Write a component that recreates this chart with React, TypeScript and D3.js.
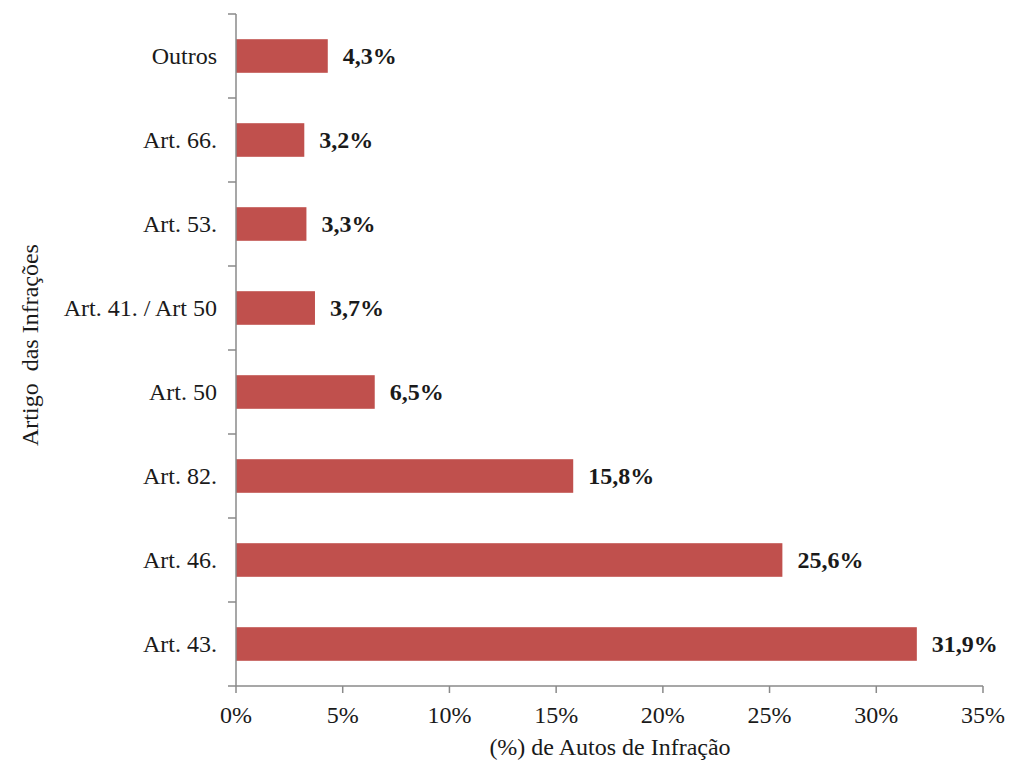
import React from "react";
import * as d3 from "d3";

const categories = ["Outros", "Art. 66.", "Art. 53.", "Art. 41. / Art 50", "Art. 50", "Art. 82.", "Art. 46.", "Art. 43."];
const values = [4.3, 3.2, 3.3, 3.7, 6.5, 15.8, 25.6, 31.9];
const xTicks = [0, 5, 10, 15, 20, 25, 30, 35];
const xTitle = "(%) de Autos de Infração";
const yTitle = "Artigo  das Infrações";

const W = 1011;
const H = 765;
const FONT = "'Liberation Serif', 'Times New Roman', serif";
const AXIS = "#8a8a8a";
const BAR = "#c0504d";

export default function App() {
  const x = d3.scaleLinear().domain([0, 35]).range([236, 983]);
  const y = d3
    .scaleBand<string>()
    .domain(categories)
    .range([14, 686])
    .paddingInner(0.6)
    .paddingOuter(0.3);
  const step = y.step();
  const [y0, y1] = y.range();
  const yTickPos = d3.range(categories.length + 1).map((i) => y0 + i * step);
  const fmt = (v: number) => v.toFixed(1).replace(".", ",") + "%";

  return (
    <svg
      width={W}
      height={H}
      style={{ position: "absolute", left: 0, top: 0, display: "block", background: "#fff" }}
      fontFamily={FONT}
    >
      {/* bars */}
      {categories.map((c, i) => (
        <rect
          key={c}
          x={x(0)}
          y={y(c)!}
          width={x(values[i]) - x(0)}
          height={y.bandwidth()}
          fill={BAR}
        />
      ))}
      {/* value labels */}
      {categories.map((c, i) => (
        <text
          key={"v" + c}
          x={x(values[i]) + 15}
          y={y(c)! + y.bandwidth() / 2 + 8}
          fontSize={24}
          fontWeight="bold"
          fill="#1a1a1a"
        >
          {fmt(values[i])}
        </text>
      ))}
      {/* y axis */}
      <line x1={x(0)} x2={x(0)} y1={y0} y2={y1} stroke={AXIS} strokeWidth={1.5} />
      {yTickPos.map((p, i) => (
        <line key={"yt" + i} x1={x(0) - 8} x2={x(0)} y1={p} y2={p} stroke={AXIS} strokeWidth={1.5} />
      ))}
      {categories.map((c) => (
        <text
          key={"yl" + c}
          x={217}
          y={y(c)! + y.bandwidth() / 2 + 8}
          fontSize={24}
          textAnchor="end"
          fill="#1a1a1a"
        >
          {c}
        </text>
      ))}
      {/* x axis */}
      <line x1={x(0)} x2={x(35)} y1={y1} y2={y1} stroke={AXIS} strokeWidth={1.5} />
      {xTicks.map((t) => (
        <g key={"xt" + t}>
          <line x1={x(t)} x2={x(t)} y1={y1} y2={y1 + 7} stroke={AXIS} strokeWidth={1.5} />
          <text x={x(t)} y={723} fontSize={24} textAnchor="middle" fill="#1a1a1a">
            {t + "%"}
          </text>
        </g>
      ))}
      {/* titles */}
      <text x={610} y={755} fontSize={24} textAnchor="middle" fill="#1a1a1a">
        {xTitle}
      </text>
      <text
        transform={`translate(38, 345) rotate(-90)`}
        fontSize={24}
        textAnchor="middle"
        fill="#1a1a1a"
        style={{ whiteSpace: "pre" }}
      >
        {yTitle}
      </text>
    </svg>
  );
}
